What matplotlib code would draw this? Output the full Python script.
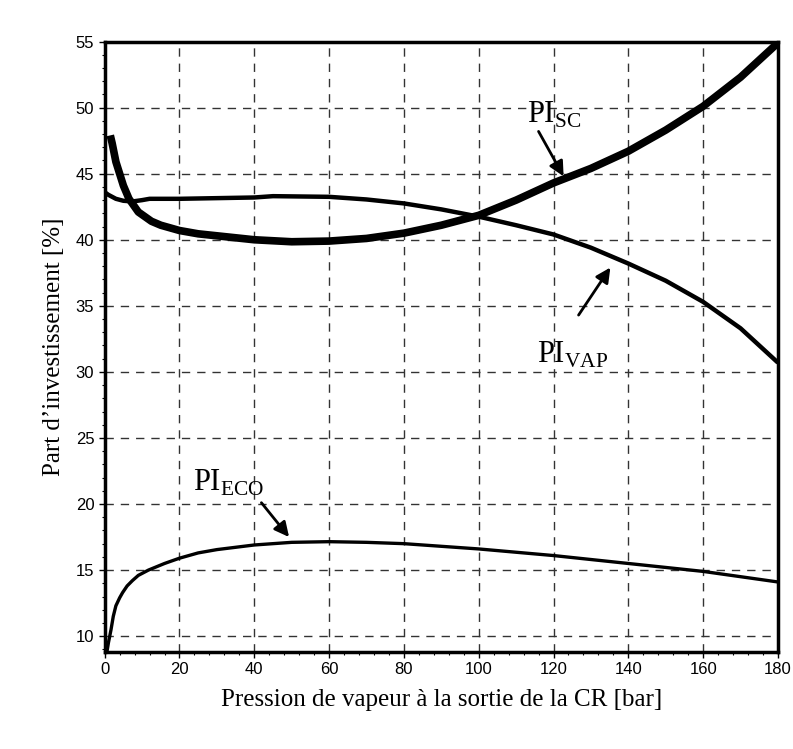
import matplotlib
matplotlib.use("Agg")
import matplotlib.pyplot as plt
from matplotlib.ticker import MultipleLocator

plt.rcParams["mathtext.fontset"] = "custom"
plt.rcParams["mathtext.rm"] = "Liberation Serif"

# Pressure at the recovery-boiler outlet [bar] and investment shares [%]
pression_sc = [1.5, 2, 2.5, 3, 4, 5, 6.5, 8, 9, 11, 12.5, 15, 20, 25, 30, 40, 50,
               60, 70, 80, 90, 100, 110, 120, 130, 140, 150, 160, 170, 180]
pi_sc = [47.9, 47.3, 46.6, 45.9, 45.0, 44.1, 43.1, 42.5, 42.1, 41.7, 41.4, 41.1,
         40.7, 40.45, 40.3, 40.0, 39.85, 39.9, 40.1, 40.5, 41.1, 41.85, 43.0,
         44.3, 45.4, 46.7, 48.3, 50.1, 52.3, 54.9]

pression_vap = [0, 1, 3, 5, 7.5, 10, 12, 20, 30, 40, 45, 60, 70, 80, 90, 100,
                110, 120, 130, 140, 150, 160, 170, 180]
pi_vap = [43.6, 43.4, 43.1, 42.95, 42.9, 43.0, 43.1, 43.1, 43.15, 43.2, 43.3,
          43.25, 43.05, 42.75, 42.3, 41.75, 41.1, 40.4, 39.4, 38.2, 36.9, 35.3,
          33.3, 30.7]

pression_eco = [0.6, 1, 1.7, 2.3, 3, 4, 4.8, 6, 7.4, 9, 11.7, 16, 20, 25, 30, 40,
                50, 60, 70, 80, 100, 120, 140, 160, 180]
pi_eco = [8.8, 9.5, 10.5, 11.5, 12.3, 12.9, 13.3, 13.8, 14.2, 14.6, 15.0, 15.5,
          15.9, 16.3, 16.55, 16.9, 17.1, 17.15, 17.1, 17.0, 16.6, 16.1, 15.5,
          14.9, 14.1]

x_ticks = [0, 20, 40, 60, 80, 100, 120, 140, 160, 180]
y_ticks = [10, 15, 20, 25, 30, 35, 40, 45, 50, 55]

fig = plt.figure(figsize=(7.93, 7.49), dpi=100)
ax = fig.add_axes([0.132, 0.1295, 0.849, 0.815])

ax.plot(pression_sc, pi_sc, color="black", lw=5.5, solid_capstyle="butt",
        solid_joinstyle="round", zorder=3)
ax.plot(pression_vap, pi_vap, color="black", lw=3.2, solid_capstyle="butt",
        solid_joinstyle="round", zorder=3)
ax.plot(pression_eco, pi_eco, color="black", lw=2.4, solid_capstyle="butt",
        solid_joinstyle="round", zorder=3)

ax.set_xlim(0, 180)
ax.set_ylim(8.8, 55)
ax.set_xticks(x_ticks)
ax.set_yticks(y_ticks)
ax.xaxis.set_minor_locator(MultipleLocator(4))
ax.yaxis.set_minor_locator(MultipleLocator(1))
ax.tick_params(which="major", length=4, width=1, labelsize=12)
ax.tick_params(which="minor", length=2, width=0.8)
for lbl in ax.get_xticklabels() + ax.get_yticklabels():
    lbl.set_family("Liberation Sans")

ax.grid(True, which="major", color="#333333", ls=(0, (6, 5)), lw=1.0)
for s in ax.spines.values():
    s.set_linewidth(2.5)

ax.set_xlabel("Pression de vapeur à la sortie de la CR [bar]",
              family="Liberation Serif", fontsize=18, labelpad=8)
ax.set_ylabel("Part d\u2019investissement [%]",
              family="Liberation Serif", fontsize=18, labelpad=8)

arrow = dict(arrowstyle="-|>", color="black", lw=2, mutation_scale=22,
             shrinkA=0, shrinkB=0)
ax.text(113, 48.3, r"$\mathrm{PI}_{\mathrm{SC}}$", fontsize=22, va="bottom", ha="left")
ax.annotate("", xy=(122.7, 44.8), xytext=(116, 48.2), arrowprops=arrow)
ax.text(115.5, 31.3, r"$\mathrm{PI}_{\mathrm{VAP}}$", fontsize=22, va="center", ha="left")
ax.annotate("", xy=(135.2, 37.9), xytext=(126.7, 34.3), arrowprops=arrow)
ax.text(23.5, 21.6, r"$\mathrm{PI}_{\mathrm{ECO}}$", fontsize=22, va="center", ha="left")
ax.annotate("", xy=(49.3, 17.5), xytext=(41.9, 20.1), arrowprops=arrow)

fig.savefig("out.png", dpi=100)
